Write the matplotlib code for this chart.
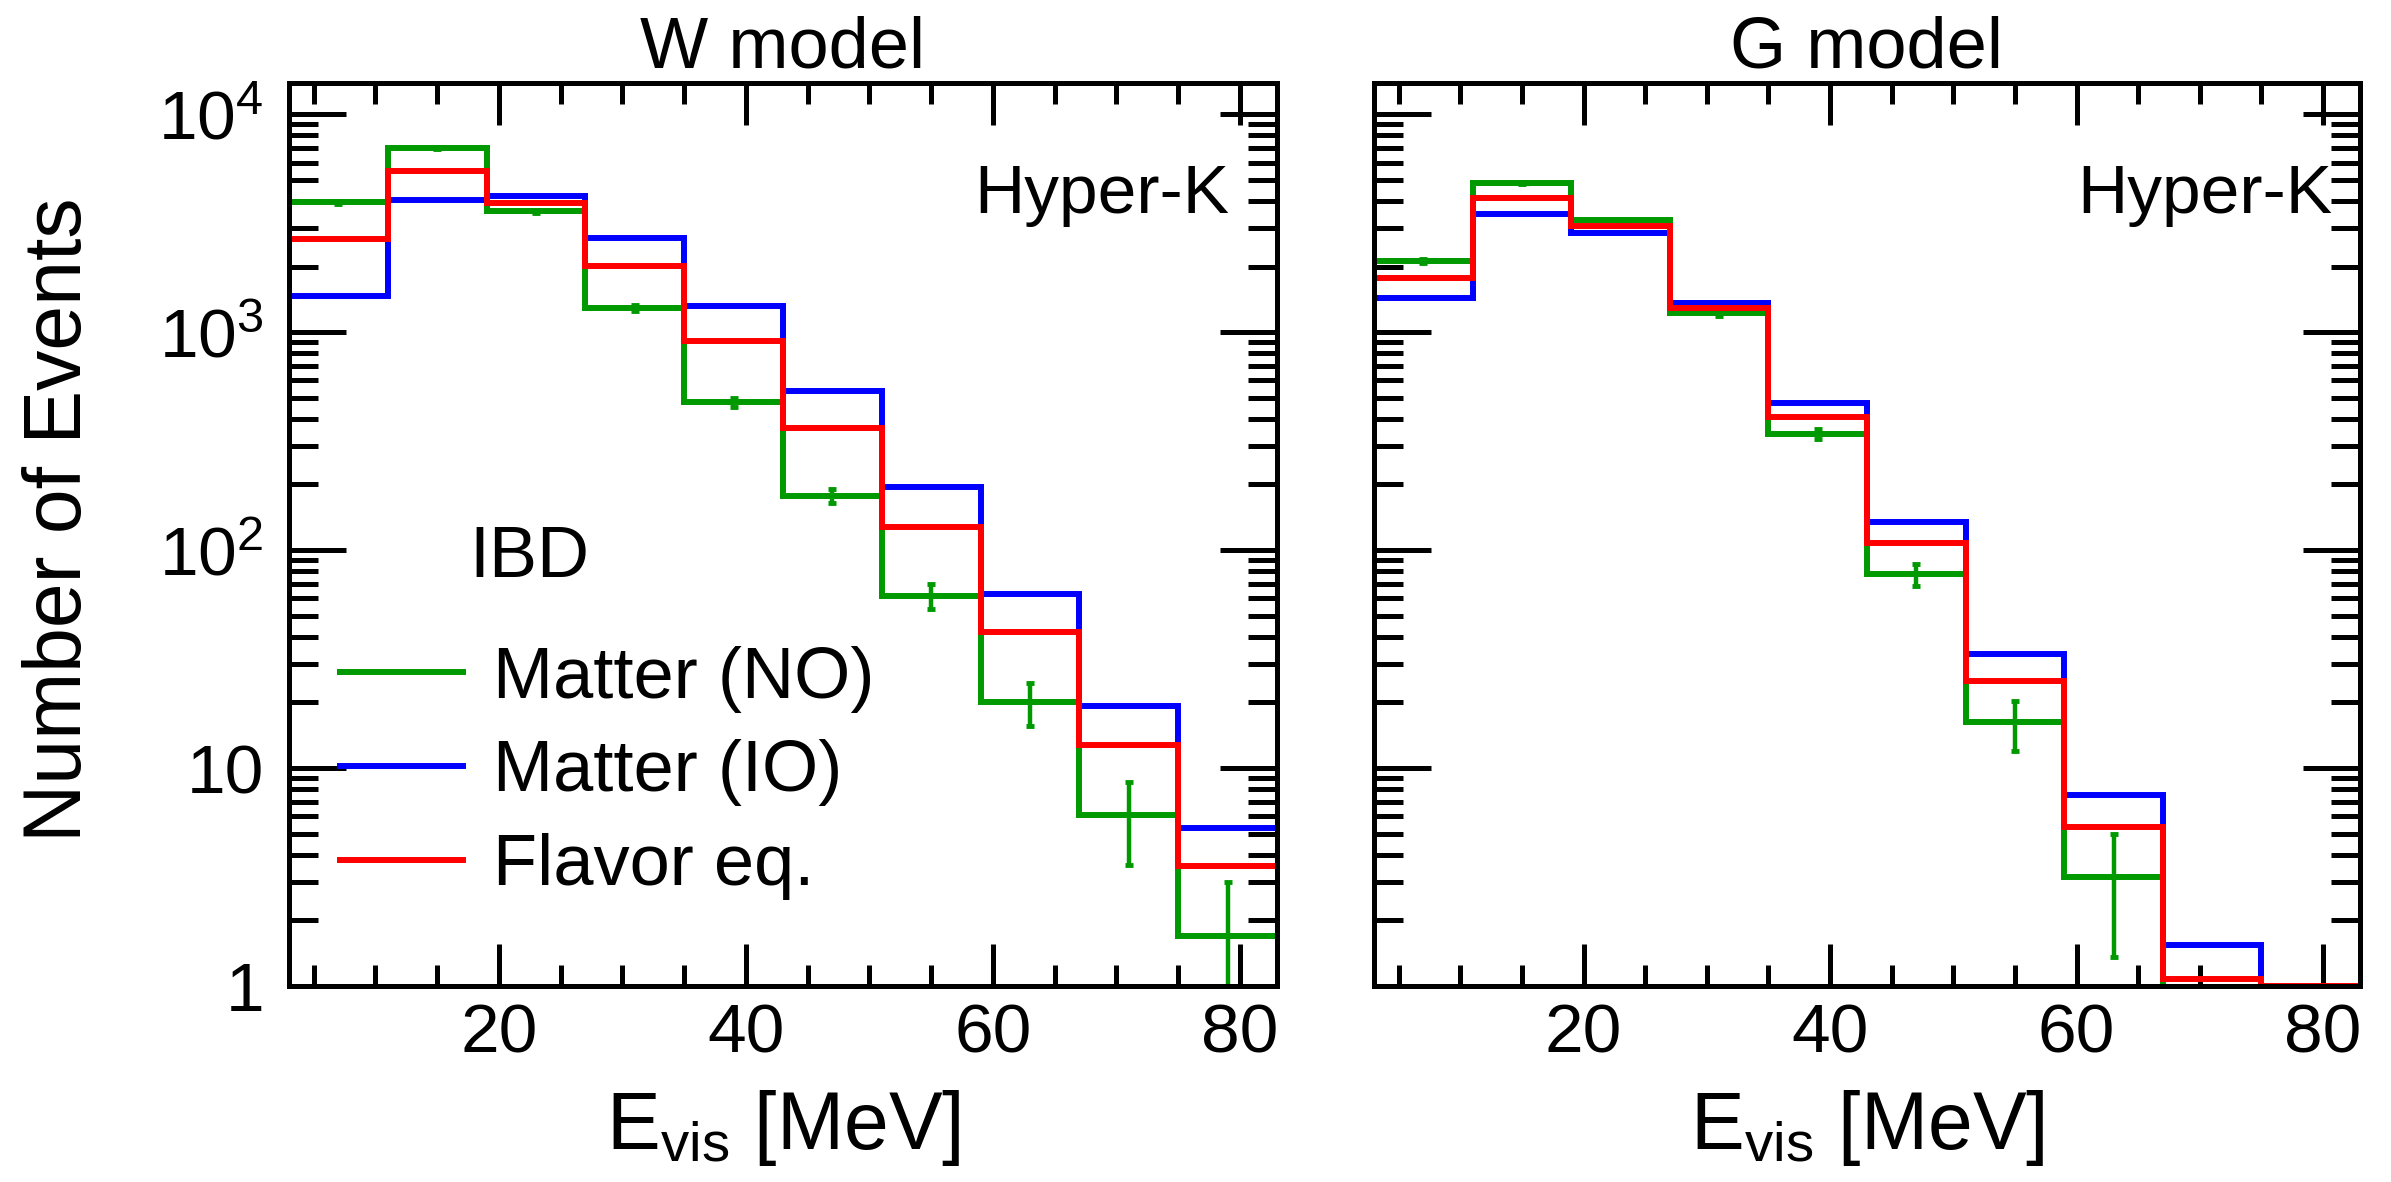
# %% Imports

import matplotlib

matplotlib.use("Agg")
import matplotlib.pyplot as plt
from matplotlib.ticker import FixedLocator, LogLocator, MultipleLocator, NullFormatter
import numpy as np

plt.rcParams["font.family"] = ["Liberation Sans", "DejaVu Sans"]
plt.rcParams["mathtext.default"] = "regular"


# %% Data

edges = [3, 11, 19, 27, 35, 43, 51, 59, 67, 75, 83]

# W model
w_no = [3940, 6990, 3580, 1290, 477, 177, 61.6, 20.1, 6.1, 1.69]
w_no_err = [63, 84, 60, 36, 22, 13, 8.0, 4.5, 2.5, 1.3]
w_io = [1460, 4050, 4200, 2700, 1316, 537, 194, 62.6, 19.2, 5.3]
w_fe = [2675, 5460, 3910, 2020, 910, 365, 128, 42, 12.8, 3.55]

# G model
g_no = [2130, 4830, 3260, 1227, 340, 77.6, 16.2, 3.16, 0.5, 0.2]
g_no_err = [46, 70, 57, 35, 18, 9.0, 4.2, 1.8, 0, 0]
g_io = [1432, 3480, 2850, 1362, 474, 135, 33.3, 7.5, 1.55, 0.4]
g_fe = [1774, 4120, 3057, 1292, 408, 108, 25, 5.37, 1.08, 1.0]

models = ["W model", "G model"]
labels = ["Matter (NO)", "Matter (IO)", "Flavor eq."]
colors = ["#009900", "#0000ff", "#ff0000"]

ytick_vals = [1, 10, 100, 1000, 10000]
ytick_labels = ["1", "10", "$10^2$", "$10^3$", "$10^4$"]


# %% Figure

W, H = 2391, 1182
fig = plt.figure(figsize=(W / 100, H / 100), dpi=100)
ax_w = fig.add_axes([289 / W, 1 - 986 / H, 988 / W, 903 / H])
ax_g = fig.add_axes([1374 / W, 1 - 986 / H, 986 / W, 903 / H])

panels = [
    (ax_w, w_no, w_no_err, w_io, w_fe, 0.952),
    (ax_g, g_no, g_no_err, g_io, g_fe, 0.972),
]

edges_a = np.array(edges)
centers = 0.5 * (edges_a[:-1] + edges_a[1:])
lw = 4.3

for i, (ax, no, no_err, io, fe, hk_x) in enumerate(panels):
    no = np.array(no)
    no_err = np.array(no_err)
    ax.stairs(no, edges, baseline=None, color=colors[0], lw=lw, label=labels[0], zorder=2)
    ok = no_err > 0
    ax.errorbar(centers[ok], no[ok], yerr=no_err[ok], fmt="none", ecolor=colors[0],
                elinewidth=3.2, capsize=3, capthick=3.5, zorder=2)
    ax.stairs(io, edges, baseline=None, color=colors[1], lw=lw, label=labels[1], zorder=3)
    ax.stairs(fe, edges, baseline=None, color=colors[2], lw=lw, label=labels[2], zorder=4)

    ax.set_yscale("log")
    ax.set_xlim(edges[0], edges[-1])
    ax.set_ylim(1, 1.39e4)

    ax.xaxis.set_major_locator(FixedLocator([20, 40, 60, 80]))
    ax.xaxis.set_minor_locator(MultipleLocator(5))
    ax.yaxis.set_major_locator(FixedLocator(ytick_vals))
    ax.yaxis.set_minor_locator(LogLocator(base=10, subs=np.arange(2, 10), numticks=20))
    ax.yaxis.set_minor_formatter(NullFormatter())
    if i == 0:
        ax.set_yticklabels(ytick_labels)
    else:
        ax.set_yticklabels([])

    ax.tick_params(axis="both", which="both", direction="in", top=True, right=True,
                   width=3.6, labelsize=50, color="black")
    ax.tick_params(axis="x", which="major", length=30, pad=12)
    ax.tick_params(axis="x", which="minor", length=15)
    ax.tick_params(axis="y", which="major", length=41, pad=18)
    ax.tick_params(axis="y", which="minor", length=21)
    for sp in ax.spines.values():
        sp.set_linewidth(3.6)
        sp.set_zorder(6)

    ax.set_title(models[i], fontsize=52, pad=8)
    ax.set_xlabel("E$_{vis}$ [MeV]", fontsize=58)
    ax.xaxis.set_label_coords(0.5, -0.113)
    ax.text(hk_x, 0.856, "Hyper-K", transform=ax.transAxes, ha="right",
            va="baseline", fontsize=50)

ax_w.set_ylabel("Number of Events", fontsize=58)
ax_w.yaxis.set_label_coords(-0.193, 0.516)

ax_w.text(0.183, 0.453, "IBD", transform=ax_w.transAxes, ha="left",
          va="baseline", fontsize=52)
ax_w.legend(loc="upper left", bbox_to_anchor=(0.0516, 0.377), frameon=False,
            fontsize=52, handlelength=1.71, handletextpad=0.41, labelspacing=0.37,
            borderpad=0, borderaxespad=0,
            handles=[plt.Line2D([], [], color=c, lw=lw) for c in colors],
            labels=labels)

fig.savefig("out.png", dpi=100)
